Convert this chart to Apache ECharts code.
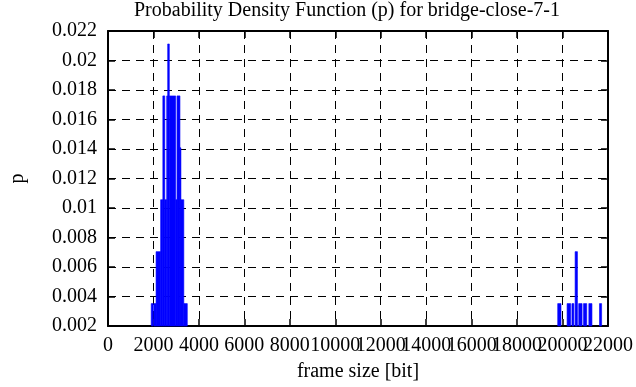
<!DOCTYPE html>
<html>
<head>
<meta charset="utf-8">
<script src="https://cdn.jsdelivr.net/npm/echarts@6/dist/echarts.min.js"></script>
<style>html,body{margin:0;padding:0;background:#fff}#c{width:636px;height:387px}</style>
</head>
<body>
<div id="c"></div>
<script>
// Histogram boxes: start / end frame size [bit] and probability
var binStart = [1902, 2015, 2115, 2315, 2413, 2498, 2583, 2626, 2698, 2979, 3038, 3166, 3209, 3336,
                19787, 20200, 20413, 20553, 20711, 20923, 21157, 21626];
var binEnd   = [1985, 2115, 2315, 2413, 2498, 2583, 2626, 2698, 2979, 3038, 3166, 3209, 3336, 3489,
                19932, 20357, 20498, 20655, 20860, 21064, 21294, 21719];
var prob     = [0.00352, 0.00352, 0.00704, 0.01056, 0.01760, 0.01056, 0.01760, 0.02112, 0.01760, 0.01056, 0.01760, 0.01408, 0.01056, 0.00352,
                0.00352, 0.00352, 0.00352, 0.00704, 0.00352, 0.00352, 0.00352, 0.00352];
var xTicks = {min: 0, max: 22000, interval: 2000};
var yTicks = {min: 0.002, max: 0.022, interval: 0.002};

var data = binStart.map(function (s, i) { return [s, binEnd[i], prob[i]]; });
var FONT = 'Liberation Serif';
var FS = 20;
var chart = echarts.init(document.getElementById('c'), null, {renderer: 'canvas'});
function axisCommon() {
  return {
    axisLine: {show: true, onZero: false, lineStyle: {color: '#000', width: 2}},
    axisTick: {show: true, inside: true, length: 7, lineStyle: {color: '#000', width: 1.5}}
  };
}
// x labels split over two bottom axes so that touching labels are all kept
function xLabel(parity) {
  return {
    fontFamily: FONT, fontSize: FS, color: '#000', margin: 10, hideOverlap: false,
    showMinLabel: true, showMaxLabel: true,
    formatter: function (v) {
      return (Math.round(v / xTicks.interval) % 2 === parity) ? String(v) : '';
    }
  };
}
chart.setOption({
  animation: false,
  backgroundColor: '#fff',
  title: {
    text: 'Probability Density Function (p) for bridge-close-7-1',
    left: 347, top: 1, padding: 0, textAlign: 'center',
    textStyle: {fontFamily: FONT, fontSize: FS, fontWeight: 'normal', color: '#000'}
  },
  grid: {left: 92, right: 26, top: 31, bottom: 56, containLabel: false},
  xAxis: [
    Object.assign({
      type: 'value', position: 'bottom', min: xTicks.min, max: xTicks.max, interval: xTicks.interval,
      name: 'frame size [bit]', nameLocation: 'middle', nameGap: 36,
      nameTextStyle: {fontFamily: FONT, fontSize: FS, color: '#000'},
      axisLabel: xLabel(0),
      splitLine: {show: true, lineStyle: {color: '#000', width: 1, type: [8, 6]}}
    }, axisCommon()),
    Object.assign({
      type: 'value', position: 'top', min: xTicks.min, max: xTicks.max, interval: xTicks.interval,
      axisLabel: {show: false}, splitLine: {show: false}
    }, axisCommon()),
    {
      type: 'value', position: 'bottom', offset: 0, min: xTicks.min, max: xTicks.max, interval: xTicks.interval,
      axisLine: {show: false}, axisTick: {show: false}, splitLine: {show: false},
      axisLabel: xLabel(1)
    }
  ],
  yAxis: [
    Object.assign({
      type: 'value', min: yTicks.min, max: yTicks.max, interval: yTicks.interval,
      name: 'p', nameLocation: 'middle', nameGap: 80, nameRotate: 90,
      nameTextStyle: {fontFamily: FONT, fontSize: FS, color: '#000'},
      axisLabel: {fontFamily: FONT, fontSize: FS, color: '#000', margin: 11, padding: [6, 0, 0, 0],
        hideOverlap: false, showMinLabel: true, showMaxLabel: true,
        formatter: function (v) { return String(+v.toFixed(3)); }},
      splitLine: {show: true, lineStyle: {color: '#000', width: 1, type: [8, 6]}}
    }, axisCommon()),
    Object.assign({
      type: 'value', position: 'right', min: yTicks.min, max: yTicks.max, interval: yTicks.interval,
      axisLabel: {show: false}, splitLine: {show: false}
    }, axisCommon())
  ],
  series: [{
    type: 'custom',
    xAxisIndex: 0, yAxisIndex: 0,
    encode: {x: [0, 1], y: 2},
    data: data,
    z: 5,
    renderItem: function (params, api) {
      var p0 = api.coord([api.value(0), api.value(2)]);
      var p1 = api.coord([api.value(1), yTicks.min]);
      return {
        type: 'rect',
        shape: {x: p0[0], y: p0[1], width: p1[0] - p0[0], height: p1[1] - p0[1]},
        style: {fill: '#0000ff', stroke: '#0000ff', lineWidth: 0.6}
      };
    }
  }]
});
</script>
</body>
</html>
